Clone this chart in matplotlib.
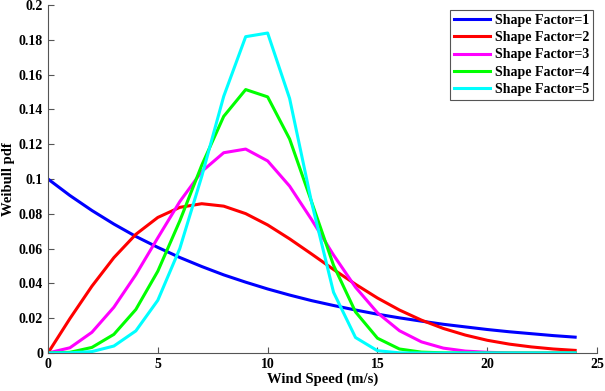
import matplotlib
matplotlib.use('Agg')
import matplotlib.pyplot as plt

# Wind speed grid (m/s) and Weibull pdf values
speed = list(range(0, 25))

shape1 = [0.1000, 0.0905, 0.0819, 0.0741, 0.0670, 0.0607, 0.0549, 0.0497, 0.0449,
          0.0407, 0.0368, 0.0333, 0.0301, 0.0273, 0.0247, 0.0223, 0.0202, 0.0183,
          0.0165, 0.0150, 0.0135, 0.0122, 0.0111, 0.0100, 0.0091]
shape2 = [0.0, 0.0198, 0.0384, 0.0548, 0.0682, 0.0779, 0.0837, 0.0858, 0.0844,
          0.0801, 0.0736, 0.0656, 0.0569, 0.0480, 0.0395, 0.0316, 0.0247, 0.0189,
          0.0141, 0.0103, 0.0073, 0.0051, 0.0035, 0.0023, 0.0015]
shape3 = [0.0, 0.0030, 0.0119, 0.0263, 0.0450, 0.0662, 0.0870, 0.1043, 0.1151,
          0.1172, 0.1104, 0.0959, 0.0767, 0.0563, 0.0378, 0.0231, 0.0128, 0.0064,
          0.0028, 0.0011, 0.0004, 0.0001, 0.0, 0.0, 0.0]
shape4 = [0.0, 0.0004, 0.0032, 0.0107, 0.0250, 0.0470, 0.0759, 0.1079, 0.1360,
          0.1514, 0.1472, 0.1230, 0.0869, 0.0504, 0.0236, 0.0085, 0.0023, 0.0005,
          0.0001, 0.0, 0.0, 0.0, 0.0, 0.0, 0.0]
shape5 = [0.0, 0.0001, 0.0008, 0.0040, 0.0127, 0.0303, 0.0600, 0.1015, 0.1475,
          0.1818, 0.1839, 0.1463, 0.0866, 0.0349, 0.0089, 0.0013, 0.0001, 0.0,
          0.0, 0.0, 0.0, 0.0, 0.0, 0.0, 0.0]

series = [shape1, shape2, shape3, shape4, shape5]
labels = ['Shape Factor=1', 'Shape Factor=2', 'Shape Factor=3',
          'Shape Factor=4', 'Shape Factor=5']
colors = ['#0000ff', '#ff0000', '#ff00ff', '#00ff00', '#00ffff']

xticks = [0, 5, 10, 15, 20, 25]
yticks = [0, 0.02, 0.04, 0.06, 0.08, 0.1, 0.12, 0.14, 0.16, 0.18, 0.2]
yticklabels = ['0', '0.02', '0.04', '0.06', '0.08', '0.1', '0.12', '0.14',
               '0.16', '0.18', '0.2']

plt.rcParams['font.family'] = ['Liberation Serif', 'DejaVu Serif']
plt.rcParams['font.weight'] = 'bold'

fig = plt.figure(figsize=(6.05, 3.91), dpi=100)
ax = fig.add_axes([0.0793, 0.0972, 0.9077, 0.8900])

for vals, lab, col in zip(series, labels, colors):
    ax.plot(speed, vals, color=col, linewidth=2.2, label=lab)

ax.set_xlim(0, 25)
ax.set_ylim(0, 0.2)
ax.set_xticks(xticks)
ax.set_yticks(yticks)
ax.set_yticklabels(yticklabels)
ax.tick_params(direction='in', length=4, width=0.8, colors='#555555',
               labelcolor='black', labelsize=10)
for lbl in ax.get_xticklabels() + ax.get_yticklabels():
    lbl.set_fontweight('bold')

ax.spines['top'].set_visible(False)
ax.spines['right'].set_visible(False)
ax.spines['left'].set_color('#555555')
ax.spines['bottom'].set_color('#555555')

ax.set_xlabel('Wind Speed (m/s)', fontsize=10.5, fontweight='bold', labelpad=1)
ax.set_ylabel('Weibull pdf', fontsize=10.5, fontweight='bold', labelpad=3)

leg = ax.legend(loc='upper right', bbox_to_anchor=(0.993, 0.986),
                borderaxespad=0, fancybox=False, framealpha=1,
                prop={'size': 10, 'weight': 'bold'}, handlelength=2.6,
                handletextpad=0.35, labelspacing=0.3, borderpad=0.3)
leg.get_frame().set_edgecolor('#555555')
leg.get_frame().set_linewidth(0.8)

fig.savefig('out.png', dpi=100)
